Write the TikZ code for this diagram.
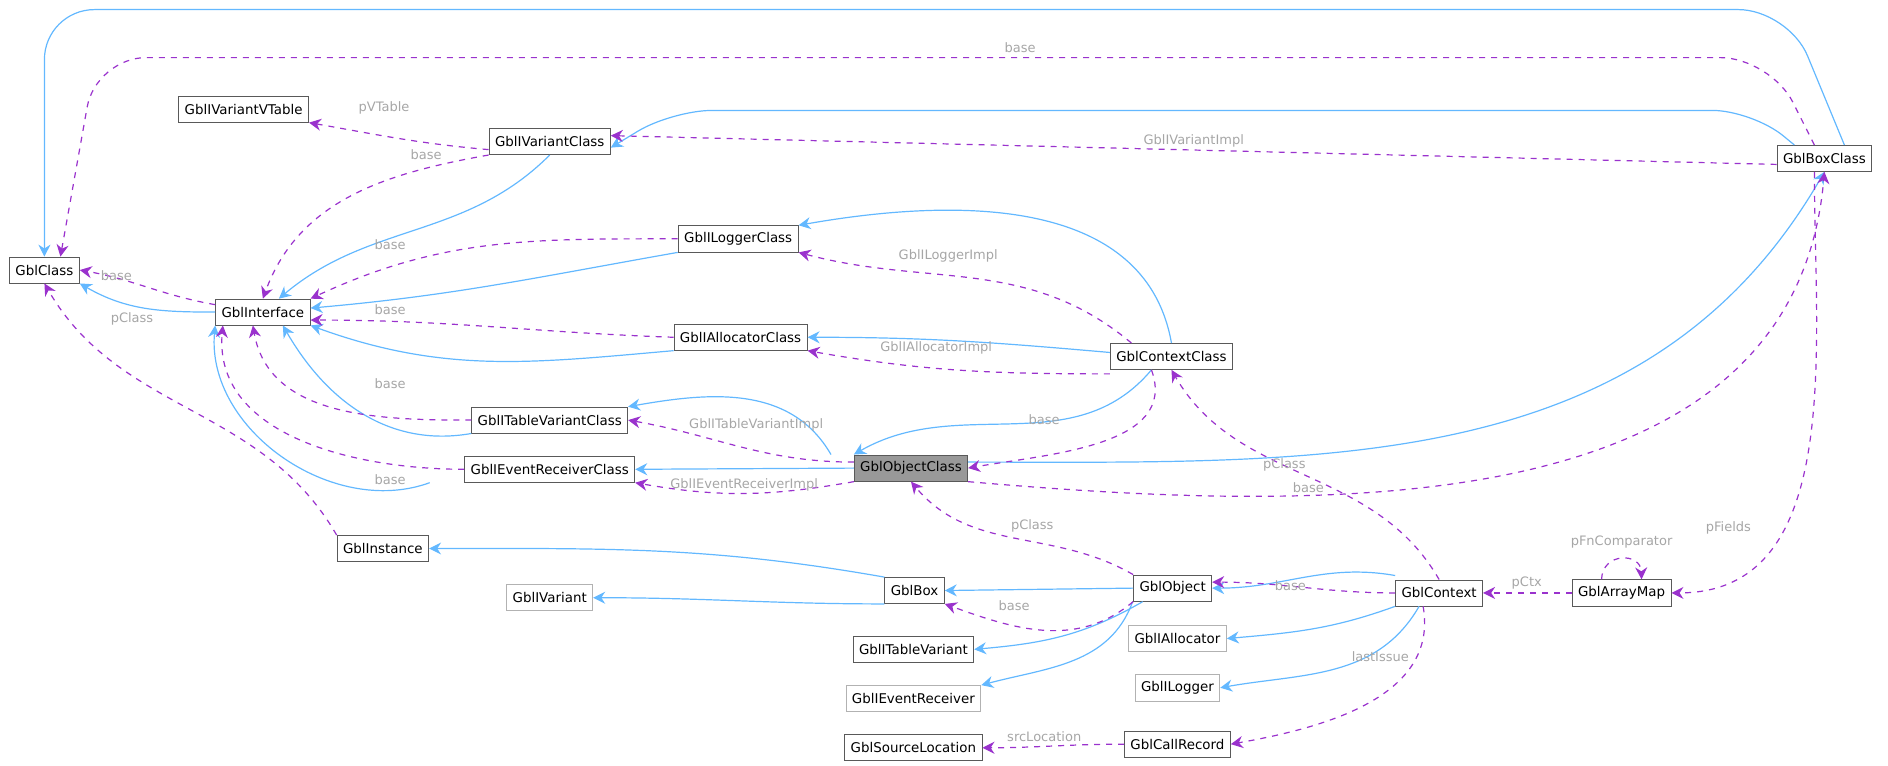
\documentclass[tikz,border=0pt]{standalone}
\usepackage{fontspec}
\setmainfont{DejaVu Sans}
\usetikzlibrary{arrows.meta}
\definecolor{inhblue}{HTML}{63B8FF}
\definecolor{usepurple}{HTML}{9A32CD}
\tikzset{
  cls/.style={draw=black!65,fill=white,inner xsep=3pt,minimum height=13pt,font=\fontsize{6.7}{7}\selectfont},
  ext/.style={cls,draw=black!30},
  inh/.style={-{Stealth[length=6pt,width=6pt]},inhblue,line width=0.6pt},
  use/.style={-{Stealth[length=6pt,width=6pt]},usepurple,dashed,line width=0.6pt},
  lbl/.style={text=black!35,font=\fontsize{6.5}{7}\selectfont,inner sep=1pt}
}
\begin{document}
\begin{tikzpicture}[x=0.6pt,y=-0.6pt]

% classes
\node[cls] (gc) at (37,225) {GblClass};
\node[cls] (ivt) at (203,91) {GblIVariantVTable};
\node[cls] (ivc) at (458,118) {GblIVariantClass};
\node[cls] (ilc) at (615,199) {GblILoggerClass};
\node[cls] (ifc) at (219,260) {GblInterface};
\node[cls] (iac) at (617,281) {GblIAllocatorClass};
\node[cls] (cc) at (976,297) {GblContextClass};
\node[cls] (itvc) at (458,350) {GblITableVariantClass};
\node[cls,fill=black!40] (oc) at (759,390) {GblObjectClass};
\node[cls] (ierc) at (458,391) {GblIEventReceiverClass};
\node[cls] (bc) at (1520,132) {GblBoxClass};
\node[cls] (inst) at (319,457) {GblInstance};
\node[cls] (box) at (762,492) {GblBox};
\node[ext] (iv) at (458,498) {GblIVariant};
\node[cls] (ob) at (977,490) {GblObject};
\node[cls] (ctx) at (1199,494) {GblContext};
\node[cls] (am) at (1351,494) {GblArrayMap};
\node[cls] (itv) at (761,541) {GblITableVariant};
\node[ext] (ia) at (981,532) {GblIAllocator};
\node[ext] (ier) at (761,582) {GblIEventReceiver};
\node[ext] (il) at (981,573) {GblILogger};
\node[cls] (crec) at (981,620) {GblCallRecord};
\node[cls] (srcl) at (761,623) {GblSourceLocation};

% inheritance
\draw[inh,rounded corners=25pt] ([xshift=10]bc.north) -- (1490,8) -- (37,8) -- (gc.north);
\draw[inh,rounded corners=20pt] ([xshift=-15]bc.north) -- (1460,92) -- (560,92) -- ([yshift=-3]ivc.east);
\draw[inh] (ivc.south) to[out=225,in=40] ([xshift=8]ifc.north);
\draw[inh] (ilc.south west) to[out=190,in=5] ([yshift=2]ifc.east);
\draw[inh] (iac.south west) to[out=185,in=-20] (ifc.south east);
\draw[inh] (itvc.south west) to[out=190,in=-60] ([xshift=10]ifc.south);
\draw[inh] ([xshift=-60]ierc.south) to[out=200,in=-95] (ifc.south west);
\draw[inh] (ifc.west) to[out=180,in=-30] (gc.south east);
\draw[inh] (cc.north) to[out=100,in=10] (ilc.north east);
\draw[inh] ([yshift=2]cc.west) to[out=175,in=0] (iac.east);
\draw[inh] ([xshift=-10]cc.south) to[out=230,in=30] (oc.north west);
\draw[inh] ([yshift=3]oc.east) to[out=0,in=-120] (bc.south);
\draw[inh] ([xshift=-40]oc.north) to[out=120,in=10] (itvc.north east);
\draw[inh] (oc.west) -- (ierc.east);
\draw[inh] (box.north west) to[out=170,in=0] (inst.east);
\draw[inh] (box.south west) to[out=180,in=0] (iv.east);
\draw[inh] (ob.west) -- (box.east);
\draw[inh] ([xshift=-15]ob.south) to[out=-150,in=5] (itv.east);
\draw[inh] ([xshift=-20]ob.south) to[out=-110,in=15] (ier.north east);
\draw[inh] ([yshift=2]ctx.north west) to[out=170,in=0] (ob.east);
\draw[inh] (ctx.south west) to[out=-160,in=5] (ia.east);
\draw[inh] ([xshift=-10]ctx.south) to[out=-120,in=10] (il.east);

% usage
\draw[use,rounded corners=25pt] ([xshift=-5]bc.north) -- (1475,48) -- (80,48) -- ([xshift=8]gc.north);
\node[lbl] at (850,40) {base};
\draw[use] ([yshift=-3]bc.west) -- ([yshift=3]ivc.east) node[lbl,midway,above] {GblIVariantImpl};
\draw[use] ([yshift=-4]ivc.west) to[out=175,in=-10] (ivt.south east);
\node[lbl] at (320,90) {pVTable};
\draw[use] (ivc.south west) to[out=190,in=70] (ifc.north);
\node[lbl] at (355,129) {base};
\draw[use] (ilc.west) to[out=180,in=25] (ifc.north east);
\node[lbl] at (325,204) {base};
\draw[use] ([yshift=-3]ifc.north west) to[out=170,in=-10] (gc.east);
\node[lbl] at (97,230) {base};
\draw[use] (iac.west) to[out=178,in=0] ([yshift=-4]ifc.east);
\node[lbl] at (325,258) {base};
\draw[use] (itvc.west) to[out=180,in=-80] ([xshift=-5]ifc.south);
\node[lbl] at (325,320) {base};
\draw[use] (ierc.west) to[out=180,in=-95] ([xshift=-20]ifc.south);
\node[lbl] at (325,400) {base};
\draw[use] (inst.north west) to[out=120,in=-60] (gc.south);
\node[lbl] at (110,266) {pClass};
\draw[use] ([xshift=-20]cc.north) to[out=140,in=-15] (ilc.south east);
\node[lbl] at (790,213) {GblILoggerImpl};
\draw[use] ([yshift=-2]cc.south west) to[out=180,in=-10] (iac.south east);
\node[lbl] at (780,290) {GblIAllocatorImpl};
\draw[use] ([xshift=-10]cc.south) to[out=-70,in=10] (oc.east);
\node[lbl] at (870,350) {base};
\draw[use] ([yshift=3]oc.west) to[out=180,in=-10] (itvc.east);
\node[lbl] at (630,354) {GblITableVariantImpl};
\draw[use] (oc.south west) to[out=190,in=-10] (ierc.south east);
\node[lbl] at (620,404) {GblIEventReceiverImpl};
\draw[use] (oc.south east) to[out=-5,in=-95] (bc.south);
\node[lbl] at (1090,406) {base};
\draw[use] (ctx.north) to[out=120,in=-60] (cc.south);
\node[lbl] at (1070,387) {pClass};
\draw[use] (ob.north west) to[out=150,in=-50] (oc.south);
\node[lbl] at (860,438) {pClass};
\draw[use] ([xshift=-5]bc.south) to[out=-90,in=0] (am.east);
\node[lbl] at (1440,440) {pFields};
\draw[use] ([xshift=-10]am.north) .. controls (1335,460) and (1367,460) .. ([xshift=10]am.north);
\node[lbl] at (1351,452) {pFnComparator};
\draw[use] (am.west) -- (ctx.east);
\node[lbl] at (1272,486) {pCtx};
\draw[use] (ctx.west) to[out=180,in=0] ([yshift=3]ob.east);
\node[lbl] at (1075,488) {base};
\draw[use] (ob.south west) to[out=-140,in=-20] (box.south east);
\node[lbl] at (845,505) {base};
\draw[use] ([xshift=-8]ctx.south) to[out=-80,in=10] (crec.east);
\node[lbl] at (1150,547) {lastIssue};
\draw[use] (crec.west) to[out=180,in=0] (srcl.east);
\node[lbl] at (870,614) {srcLocation};

\pgfresetboundingbox
\path[use as bounding box] (0,0) rectangle (1573,638);
\end{tikzpicture}
\end{document}
